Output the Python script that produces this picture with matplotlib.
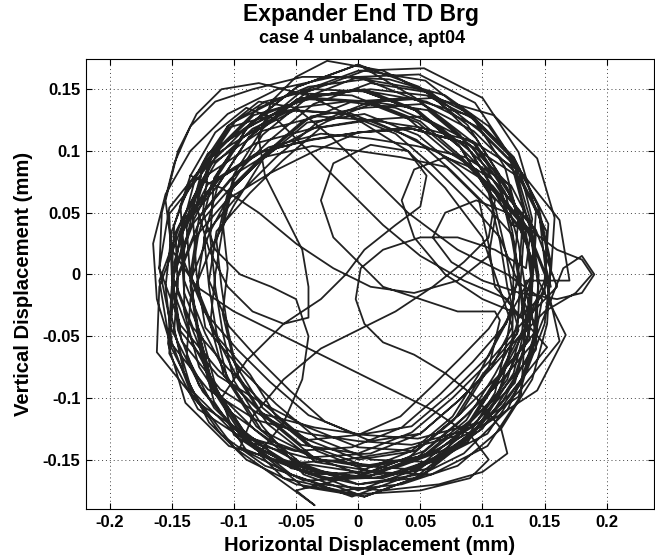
import numpy as np
import matplotlib
matplotlib.use("Agg")
import matplotlib.pyplot as plt

# Orbit trace (mm)
orbit1_x = [.145, .138, .126, .093, .051, .005, -.038, -.071, -.100, -.119, -.135, -.128, -.116, -.083, -.044, .005, .051, .087, .110, .129,
            .120, .114, .105, .082, .046, 0, -.049, -.088, -.113, -.124, -.120, -.114, -.105, -.082, -.046, 0, .043, .076, .097, .114]
orbit1_y = [-.005, .038, .083, .116, .138, .135, .128, .100, .071, .035, -.005, -.048, -.093, -.126, -.157, -.165, -.148, -.118, -.081, -.045,
            -.010, .027, .066, .103, .133, .150, .142, .111, .072, .030, -.010, -.047, -.086, -.123, -.153, -.160, -.143, -.115, -.081, -.047]

orbit2_x = [.140, .134, .107, .081, .050, .010, -.036, -.084, -.119, -.133, -.130, -.123, -.095, -.066, -.033, .010, .059, .104, .131, .143,
            .130, .133, .121, .088, .043, 0, -.037, -.071, -.105, -.133, -.150, -.152, -.129, -.088, -.043, 0, .046, .088, .113, .124,
            .125, .129, .118, .093, .054, .005, -.041, -.077, -.100, -.109, -.105, -.109, -.100, -.077, -.041, .005, .054, .093, .118, .129]
orbit2_y = [0, .040, .071, .097, .124, .140, .143, .129, .094, .046, 0, -.043, -.076, -.105, -.133, -.150, -.152, -.129, -.088, -.043,
            -.015, .028, .073, .106, .118, .115, .099, .082, .061, .028, -.015, -.064, -.109, -.136, -.148, -.155, -.158, -.136, -.097, -.055,
            .005, .045, .087, .126, .157, .165, .148, .118, .081, .042, .005, -.032, -.071, -.108, -.138, -.155, -.147, -.116, -.077, -.035]

orbit3_x = [.120, .085, .050, .020, -.010, -.040, -.065, -.090, -.115, -.135, -.148, -.150, -.145, -.128, -.100, -.060, -.015, .035, .080, .115, .140,
            .145, .138, .108, .071, .035, -.005, -.051, -.093, -.118, -.129, -.135, -.129, -.118, -.093, -.054, -.005, .044, .083, .108, .128,
            .150, .175, .188, .180, .160, .140,
            .124, .105, .082, .046, 0, -.049, -.088, -.113, -.133, -.150, -.143, -.113, -.076, -.040, 0, .046, .082, .105, .114]
orbit3_y = [-.020, -.005, .015, .040, .070, .100, .125, .135, .115, .080, .040, .000, -.045, -.090, -.125, -.150, -.165, -.160, -.140, -.105, -.060,
            -.010, .036, .072, .095, .114, .130, .133, .111, .072, .030, -.010, -.050, -.092, -.131, -.162, -.180, -.162, -.131, -.092, -.053,
            -.030, -.015, .000, .012, .020, .035,
            .040, .076, .113, .143, .170, .152, .121, .082, .043, 0, -.046, -.082, -.105, -.124, -.140, -.143, -.113, -.076, -.037]

orbit4_x = [.110, .080, .050, .020, .000, -.020, -.030, -.020, .010, .040, .055, .050, .030, .005, -.010, -.030, -.060, -.090, -.110, -.100, -.070, -.030,
            .015, .060, .100, .125, .138,
            .140, .143, .123, .086, .047, .010, -.030, -.072, -.111, -.142, -.150, -.133, -.111, -.084, -.039, .010, .053, .086, .115, .143,
            .145, .138, .124, .089, .041, -.005, -.045, -.076, -.102, -.129, -.145, -.148, -.134, -.099, -.051, -.005, .035, .066, .092, .119]
orbit4_y = [-.030, -.030, -.020, -.010, .010, .030, .060, .090, .105, .100, .080, .055, .040, .020, .000, -.020, -.040, -.070, -.100, -.130, -.150, -.160,
            -.165, -.150, -.125, -.085, -.045,
            -.010, .033, .072, .095, .104, .110, .114, .103, .078, .039, -.010, -.056, -.098, -.139, -.162, -.160, -.143, -.115, -.086, -.053,
            0, .046, .094, .129, .143, .140, .124, .097, .071, .040, 0, -.046, -.094, -.129, -.143, -.140, -.124, -.097, -.071, -.040]

orbit5_x = [.125, .119, .110, .081, .048, .005, -.041, -.077, -.100, -.119, -.135, -.138, -.116, -.083, -.044, .005, .051, .087, .110, .119,
            .130, .133, .121, .094, .049, 0, -.043, -.082, -.121, -.143, -.140, -.124, -.097, -.071, -.040, 0, .043, .076, .105, .124,
            .100, .070, .045, .035, .045, .070, .095, .110, .105, .085, .060, .030, .000, -.030, -.060, -.085, -.095, -.070, -.030, .020, .065, .100, .125, .135]
orbit5_y = [-.020, .017, .056, .085, .113, .130, .123, .093, .056, .020, -.020, -.066, -.108, -.141, -.172, -.180, -.163, -.133, -.096, -.057,
            .010, .053, .098, .139, .162, .160, .143, .123, .098, .056, .010, -.030, -.061, -.087, -.114, -.130, -.123, -.095, -.066, -.030,
            -.020, .000, .030, .060, .085, .095, .085, .060, .030, .010, -.010, -.030, -.045, -.060, -.085, -.115, -.140, -.150, -.165, -.165, -.150, -.120, -.080, -.040]

orbit6_x = [.150, .153, .131, .092, .050, .010, -.033, -.078, -.119, -.142, -.140, -.123, -.103, -.078, -.036, .010, .050, .081, .107, .134,
            .130, .114, .087, .061, .030, -.010, -.056, -.104, -.131, -.143, -.150, -.153, -.139, -.104, -.056, -.010, .033, .078, .111, .133,
            .140, .135, .120, .095, .060, .020, -.025, -.050, -.070, -.080, -.075, -.060, -.045, -.040, -.040, -.060, -.085, -.105, -.120, -.130,
            -.125, -.105, -.075, -.035, .010, .055, .095, .125, .145, .155, .150, .135, .110, .075, .035]
orbit6_y = [-.005, .041, .083, .108, .119, .125, .128, .116, .089, .044, -.005, -.048, -.087, -.126, -.148, -.145, -.129, -.102, -.076, -.045,
            -.010, .030, .061, .087, .114, .130, .133, .119, .078, .033, -.010, -.056, -.104, -.139, -.153, -.150, -.143, -.131, -.098, -.056,
            -.010, .030, .070, .110, .145, .165, .173, .160, .140, .110, .080, .050, .020, -.010, -.035, -.040, -.030, -.010, .020, .055,
            .090, .120, .140, .150, .148, .140, .120, .090, .050, .005, -.040, -.080, -.115, -.140, -.155]

orbit7_x = [-.010, -.050, -.035, -.065, -.100, -.130, -.150, -.162, -.165, -.155, -.135, -.105, -.065, -.020, .025, .070, .105, .130, .140, .135,
            .110, .080, .050, .020, .002, -.002, .005, .020, .045, .070, .095, .115, .120, .100, .065, .020, -.030, -.075, -.110, -.135,
            -.150, -.155, -.150, -.135, -.110, -.075, -.035, .010, .055, .095, .125, .145, .150]
orbit7_y = [-.165, -.175, -.187, -.165, -.140, -.100, -.060, -.020, .025, .065, .100, .130, .150, .160, .158, .145, .120, .085, .045, .005,
            .020, .030, .030, .020, .005, -.020, -.040, -.055, -.065, -.080, -.100, -.125, -.145, -.160, -.170, -.175, -.170, -.155, -.130, -.095,
            -.055, -.010, .035, .075, .105, .130, .145, .150, .145, .125, .095, .055, .010]

orbit8_x = [.155, .138, .110, .081, .048, .005, -.044, -.089, -.116, -.119, -.115, -.109, -.100, -.077, -.044, .005, .054, .087, .110, .138,
            .130, .124, .113, .082, .040, 0, -.037, -.076, -.113, -.143, -.160, -.152, -.121, -.082, -.040, 0, .043, .088, .129, .143,
            .165, .180, .190, .180, .160, .130, .100, .075, .060, .070, .095, .120, .135, .140, .130]
orbit8_y = [-.010, .033, .066, .095, .123, .140, .142, .119, .078, .030, -.010, -.047, -.086, -.123, -.162, -.180, -.162, -.123, -.086, -.053,
            -.005, .035, .077, .108, .119, .115, .109, .100, .077, .041, -.005, -.054, -.093, -.118, -.129, -.135, -.138, -.126, -.099, -.051,
            .005, .015, .000, -.015, -.020, -.015, -.005, .010, .030, .050, .060, .050, .030, .000, -.035]

orbit9_x = [.150, .152, .129, .088, .043, 0, -.040, -.082, -.121, -.143, -.140, -.124, -.113, -.088, -.046, 0, .046, .082, .113, .143,
            .145, .129, .102, .081, .048, .005, -.041, -.077, -.100, -.109, -.115, -.119, -.108, -.077, -.035, .005, .048, .093, .126, .138,
            .140, .125, .095, .050, .000, -.045, -.085, -.115, -.135, -.148, -.158, -.160, -.150, -.125, -.090, -.045, .000, .045, .085, .120, .140, .148]
orbit9_y = [-.015, .034, .079, .106, .118, .115, .109, .098, .073, .031, -.015, -.055, -.097, -.136, -.158, -.175, -.158, -.128, -.097, -.061,
            0, .040, .071, .105, .133, .150, .143, .113, .076, .037, 0, -.040, -.082, -.113, -.124, -.130, -.133, -.121, -.088, -.043,
            .010, .060, .105, .140, .160, .160, .150, .140, .120, .090, .050, .005, -.045, -.095, -.135, -.160, -.170, -.165, -.145, -.110, -.065, -.020]

orbit10_x = [.120, .080, .040, .010, -.020, -.050, -.080, -.105, -.120, -.125, -.115, -.095, -.070, -.050, -.040, -.045, -.060, -.080, -.060, -.015,
             .035, .080, .115, .140, .152, .155, .145, .125, .090, .050, .005, -.040, -.080, -.110, -.130, -.140, -.140, -.128, -.105, -.070,
             -.030, .015, .060, .095, .120, .132, .135]
orbit10_y = [.000, .020, .050, .080, .110, .135, .140, .120, .090, .050, .020, .000, -.010, -.020, -.050, -.085, -.120, -.145, -.165, -.175,
             -.170, -.155, -.125, -.085, -.040, .010, .055, .095, .130, .150, .158, .152, .135, .105, .065, .020, -.030, -.075, -.110, -.135,
             -.150, -.155, -.145, -.120, -.085, -.045, -.005]

orbit11_x = [.170, .162, .131, .098, .059, .010, -.036, -.072, -.103, -.133, -.150, -.142, -.111, -.072, -.036, .010, .059, .098, .131, .162,
             .150, .133, .113, .088, .049, 0, -.049, -.088, -.121, -.152, -.150, -.133, -.105, -.076, -.043, 0, .046, .082, .113, .143,
             .135, .129, .118, .093, .051, .005, -.038, -.083, -.124, -.147, -.145, -.128, -.116, -.089, -.044, .005, .048, .081, .110, .129]
orbit11_y = [-.005, .044, .083, .116, .147, .155, .138, .108, .077, .041, -.005, -.054, -.093, -.118, -.148, -.165, -.157, -.126, -.093, -.054,
             0, .043, .082, .121, .152, .170, .152, .121, .088, .049, 0, -.043, -.076, -.105, -.133, -.150, -.143, -.113, -.082, -.046,
             -.015, .025, .067, .106, .128, .125, .118, .106, .079, .034, -.015, -.058, -.103, -.144, -.167, -.165, -.148, -.120, -.091, -.055]

orbit12_x = [.155, .158, .144, .109, .061, .015, -.025, -.061, -.098, -.128, -.135, -.118, -.098, -.073, -.034, .015, .061, .103, .144, .167,
             .145, .138, .108, .071, .038, -.005, -.054, -.099, -.126, -.138, -.135, -.129, -.118, -.093, -.054, -.005, .041, .077, .100, .128]
orbit12_y = [0, .046, .094, .129, .143, .140, .124, .105, .082, .046, 0, -.043, -.082, -.121, -.152, -.160, -.143, -.121, -.094, -.049,
             -.005, .041, .077, .100, .128, .145, .147, .124, .083, .038, -.005, -.045, -.087, -.126, -.157, -.165, -.148, -.118, -.081, -.048]

orbit13_x = [.130, .124, .115, .092, .056, .010, -.033, -.066, -.095, -.123, -.130, -.114, -.087, -.066, -.033, .010, .059, .104, .131, .134,
             .140, .143, .129, .100, .053, 0, -.046, -.082, -.121, -.152, -.160, -.143, -.113, -.082, -.046, 0, .043, .076, .105, .133,
             .160, .143, .113, .082, .046, 0, -.049, -.088, -.113, -.143, -.160, -.162, -.129, -.088, -.046, 0, .049, .088, .121, .152]
orbit13_y = [-.010, .027, .066, .103, .133, .140, .123, .095, .066, .033, -.010, -.050, -.081, -.115, -.143, -.160, -.162, -.139, -.098, -.050,
             .005, .051, .099, .143, .167, .165, .148, .118, .093, .054, .005, -.041, -.077, -.108, -.138, -.145, -.128, -.100, -.071, -.038,
             -.010, .036, .072, .103, .133, .150, .142, .111, .072, .036, -.010, -.063, -.104, -.131, -.153, -.170, -.162, -.131, -.098, -.059]

orbit14_x = [.110, .105, .097, .071, .034, 0, -.037, -.076, -.105, -.114, -.110, -.105, -.097, -.076, -.040, 0, .034, .059, .081, .105,
             .130, .124, .099, .075, .047, .010, -.030, -.061, -.087, -.114, -.120, -.104, -.079, -.055, -.027, .010, .050, .081, .107, .124]
orbit14_y = [-.010, .024, .061, .087, .095, .100, .104, .095, .066, .027, -.010, -.044, -.081, -.115, -.134, -.130, -.115, -.091, -.069, -.044,
             -.005, .032, .060, .084, .109, .125, .119, .092, .066, .035, -.005, -.042, -.070, -.094, -.119, -.135, -.129, -.102, -.076, -.042]

orbit15_x = [.100, .070, .040, .000, -.040, -.080, -.110, -.130, -.145, -.155, -.150, -.130, -.100, -.060, -.020, .020, .060, .090, .105, .090,
             .050, .000, -.050, -.090, -.120, -.140, -.150, -.148, -.135, -.115, -.085, -.050, -.010, .030, .065, .090, .105, .110, .105, .080,
             .045, .010, -.020, -.050, -.080, -.110, -.135]
orbit15_y = [.030, .070, .100, .125, .145, .155, .150, .130, .100, .060, .020, -.010, -.030, -.050, -.070, -.090, -.110, -.130, -.150, -.165,
             -.175, -.178, -.170, -.150, -.120, -.080, -.035, .010, .055, .090, .118, .135, .140, .135, .120, .100, .075, .045, .015, -.005,
             -.015, -.010, .005, .025, .050, .070, .080]

x_ticks = [-0.2, -0.15, -0.1, -0.05, 0, 0.05, 0.1, 0.15, 0.2]
x_tick_labels = ['-0.2', '-0.15', '-0.1', '-0.05', '0', '0.05', '0.1', '0.15', '0.2']
y_ticks = [-0.15, -0.1, -0.05, 0, 0.05, 0.1, 0.15]
y_tick_labels = ['-0.15', '-0.1', '-0.05', '0', '0.05', '0.1', '0.15']


def main():
    plt.rcParams['font.family'] = ['Liberation Sans', 'DejaVu Sans']
    plt.rcParams['font.weight'] = 'bold'

    fig = plt.figure(figsize=(6.55, 5.57), dpi=100)
    ax = fig.add_axes([86 / 655, 48 / 557, 568 / 655, 450 / 557])

    xs = [orbit1_x, orbit2_x, orbit3_x, orbit4_x, orbit5_x, orbit6_x, orbit7_x, orbit8_x,
          orbit9_x, orbit10_x, orbit11_x, orbit12_x, orbit13_x, orbit14_x, orbit15_x]
    ys = [orbit1_y, orbit2_y, orbit3_y, orbit4_y, orbit5_y, orbit6_y, orbit7_y, orbit8_y,
          orbit9_y, orbit10_y, orbit11_y, orbit12_y, orbit13_y, orbit14_y, orbit15_y]
    x = np.concatenate([np.asarray(v, float) for v in xs])
    y = np.concatenate([np.asarray(v, float) for v in ys])
    ax.plot(x, y, color='#222222', linewidth=1.3, solid_joinstyle='round')

    ax.set_xlim(-0.219, 0.238)
    ax.set_ylim(-0.190, 0.1745)
    ax.set_xticks(x_ticks)
    ax.set_xticklabels(x_tick_labels)
    ax.set_yticks(y_ticks)
    ax.set_yticklabels(y_tick_labels)
    ax.tick_params(direction='in', length=4, width=0.8, top=True, right=True,
                   labelsize=12, pad=4)
    for lab in ax.get_xticklabels() + ax.get_yticklabels():
        lab.set_fontweight('bold')

    ax.grid(True, color='#444444', linestyle=(0, (1, 3)), linewidth=0.7)
    ax.set_axisbelow(True)
    for sp in ax.spines.values():
        sp.set_linewidth(0.8)

    fig.text(361 / 655, 1 - 21 / 557, 'Expander End TD Brg', ha='center', va='baseline',
             fontsize=16.5, fontweight='bold')
    fig.text(362 / 655, 1 - 43 / 557, 'case 4 unbalance, apt04', ha='center', va='baseline',
             fontsize=13, fontweight='bold')
    fig.text(370 / 655, 6 / 557, 'Horizontal Displacement (mm)', ha='center', va='baseline',
             fontsize=14.6, fontweight='bold')
    fig.text(24 / 655, 1 - 284 / 557, 'Vertical Displacement (mm)', ha='center', va='center',
             rotation=90, fontsize=14.6, fontweight='bold')

    fig.savefig('out.png', dpi=100, facecolor='white')
    plt.close(fig)


if __name__ == "__main__":
    main()
